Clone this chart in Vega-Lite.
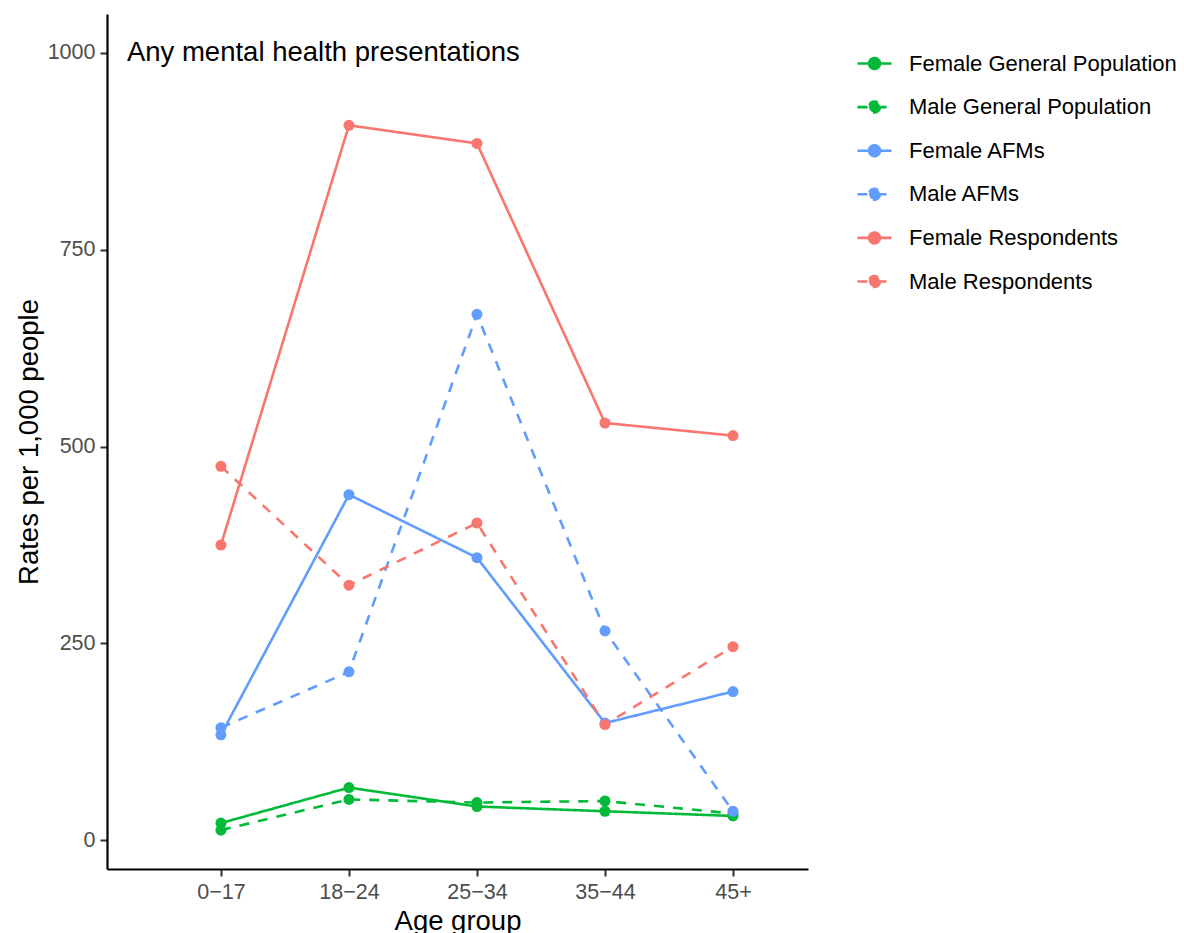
{
  "$schema": "https://vega.github.io/schema/vega-lite/v6.json",
  "autosize": "none",
  "width": 701,
  "height": 855,
  "padding": {"left": 107, "top": 14, "right": 376, "bottom": 64},
  "background": "white",
  "config": {
    "font": "Liberation Sans",
    "view": {"stroke": null},
    "axis": {
      "grid": false,
      "domainColor": "black",
      "domainWidth": 2.2,
      "tickColor": "#333333",
      "tickWidth": 2,
      "tickSize": 7,
      "labelPadding": 5,
      "labelColor": "#4D4D4D",
      "labelFontSize": 21.5,
      "labelFont": "Liberation Sans",
      "titleFont": "Liberation Sans",
      "titleFontSize": 27.5,
      "titleFontWeight": "normal",
      "titleColor": "black"
    }
  },
  "datasets": {
    "rates": [
      {"series": "Female General Population", "age": "0-17", "rate": 22},
      {"series": "Female General Population", "age": "18-24", "rate": 67},
      {"series": "Female General Population", "age": "25-34", "rate": 43},
      {"series": "Female General Population", "age": "35-44", "rate": 37},
      {"series": "Female General Population", "age": "45+", "rate": 31},
      {"series": "Male General Population", "age": "0-17", "rate": 13},
      {"series": "Male General Population", "age": "18-24", "rate": 52},
      {"series": "Male General Population", "age": "25-34", "rate": 48},
      {"series": "Male General Population", "age": "35-44", "rate": 50},
      {"series": "Male General Population", "age": "45+", "rate": 34},
      {"series": "Female AFMs", "age": "0-17", "rate": 134},
      {"series": "Female AFMs", "age": "18-24", "rate": 439},
      {"series": "Female AFMs", "age": "25-34", "rate": 359},
      {"series": "Female AFMs", "age": "35-44", "rate": 149},
      {"series": "Female AFMs", "age": "45+", "rate": 189},
      {"series": "Male AFMs", "age": "0-17", "rate": 143},
      {"series": "Male AFMs", "age": "18-24", "rate": 214},
      {"series": "Male AFMs", "age": "25-34", "rate": 668},
      {"series": "Male AFMs", "age": "35-44", "rate": 266},
      {"series": "Male AFMs", "age": "45+", "rate": 37},
      {"series": "Female Respondents", "age": "0-17", "rate": 375},
      {"series": "Female Respondents", "age": "18-24", "rate": 908},
      {"series": "Female Respondents", "age": "25-34", "rate": 885},
      {"series": "Female Respondents", "age": "35-44", "rate": 530},
      {"series": "Female Respondents", "age": "45+", "rate": 514},
      {"series": "Male Respondents", "age": "0-17", "rate": 475},
      {"series": "Male Respondents", "age": "18-24", "rate": 324},
      {"series": "Male Respondents", "age": "25-34", "rate": 403},
      {"series": "Male Respondents", "age": "35-44", "rate": 147},
      {"series": "Male Respondents", "age": "45+", "rate": 246}
    ],
    "note": [{"label": "Any mental health presentations"}]
  },
  "layer": [
    {
      "data": {"name": "rates"},
      "mark": {"type": "line", "strokeWidth": 2.6},
      "encoding": {
        "x": {
          "field": "age",
          "type": "ordinal",
          "sort": ["0-17", "18-24", "25-34", "35-44", "45+"],
          "scale": {"type": "point", "padding": 0.738, "align": 0.603},
          "axis": {"title": "Age group", "labelAngle": 0, "titlePadding": 5, "labelExpr": "replace(datum.label, '-', '\u2212')"}
        },
        "y": {
          "field": "rate",
          "type": "quantitative",
          "scale": {"domain": [-36.35, 1049.35], "nice": false, "zero": false},
          "axis": {"title": "Rates per 1,000 people", "values": [0, 250, 500, 750, 1000], "format": "d", "titlePadding": 4}
        },
        "color": {
          "field": "series",
          "type": "nominal",
          "scale": {
            "domain": ["Female General Population", "Male General Population", "Female AFMs", "Male AFMs", "Female Respondents", "Male Respondents"],
            "range": ["#00BA38", "#00BA38", "#619CFF", "#619CFF", "#F8766D", "#F8766D"]
          },
          "legend": {
            "title": null,
            "orient": "none",
            "legendX": 749,
            "legendY": 31,
            "padding": 0,
            "symbolType": "M-1,0H1M0.32,0A0.32,0.32 0 1,1 -0.32,0A0.32,0.32 0 1,1 0.32,0Z",
            "symbolSize": 1156,
            "symbolStrokeWidth": 2.6,
            "labelFontSize": 22,
            "labelColor": "black",
            "labelFont": "Liberation Sans",
            "labelOffset": 16,
            "rowPadding": 13.6,
            "labelLimit": 400,
            "encode": {"symbols": {"update": {"fill": {"scale": "color", "field": "value"}}}}
          }
        },
        "strokeDash": {
          "field": "series",
          "type": "nominal",
          "scale": {
            "domain": ["Female General Population", "Male General Population", "Female AFMs", "Male AFMs", "Female Respondents", "Male Respondents"],
            "range": [[1, 0], [10, 9], [1, 0], [10, 9], [1, 0], [10, 9]]
          },
          "legend": {
            "title": null,
            "orient": "none",
            "legendX": 749,
            "legendY": 31,
            "padding": 0,
            "symbolType": "M-1,0H1M0.32,0A0.32,0.32 0 1,1 -0.32,0A0.32,0.32 0 1,1 0.32,0Z",
            "symbolSize": 1156,
            "symbolStrokeWidth": 2.6,
            "labelFontSize": 22,
            "labelColor": "black",
            "labelFont": "Liberation Sans",
            "labelOffset": 16,
            "rowPadding": 13.6,
            "labelLimit": 400
          }
        }
      }
    },
    {
      "data": {"name": "rates"},
      "mark": {"type": "point", "filled": true, "size": 121, "opacity": 1},
      "encoding": {
        "x": {"field": "age", "type": "ordinal", "sort": ["0-17", "18-24", "25-34", "35-44", "45+"]},
        "y": {"field": "rate", "type": "quantitative"},
        "color": {"field": "series", "type": "nominal", "legend": null}
      }
    },
    {
      "data": {"name": "note"},
      "mark": {"type": "text", "align": "left", "baseline": "middle", "dx": -94, "fontSize": 27.5, "font": "Liberation Sans", "color": "black"},
      "encoding": {
        "x": {"datum": "0-17", "type": "ordinal"},
        "y": {"datum": 1000, "type": "quantitative"},
        "text": {"field": "label", "type": "nominal"}
      }
    }
  ]
}
